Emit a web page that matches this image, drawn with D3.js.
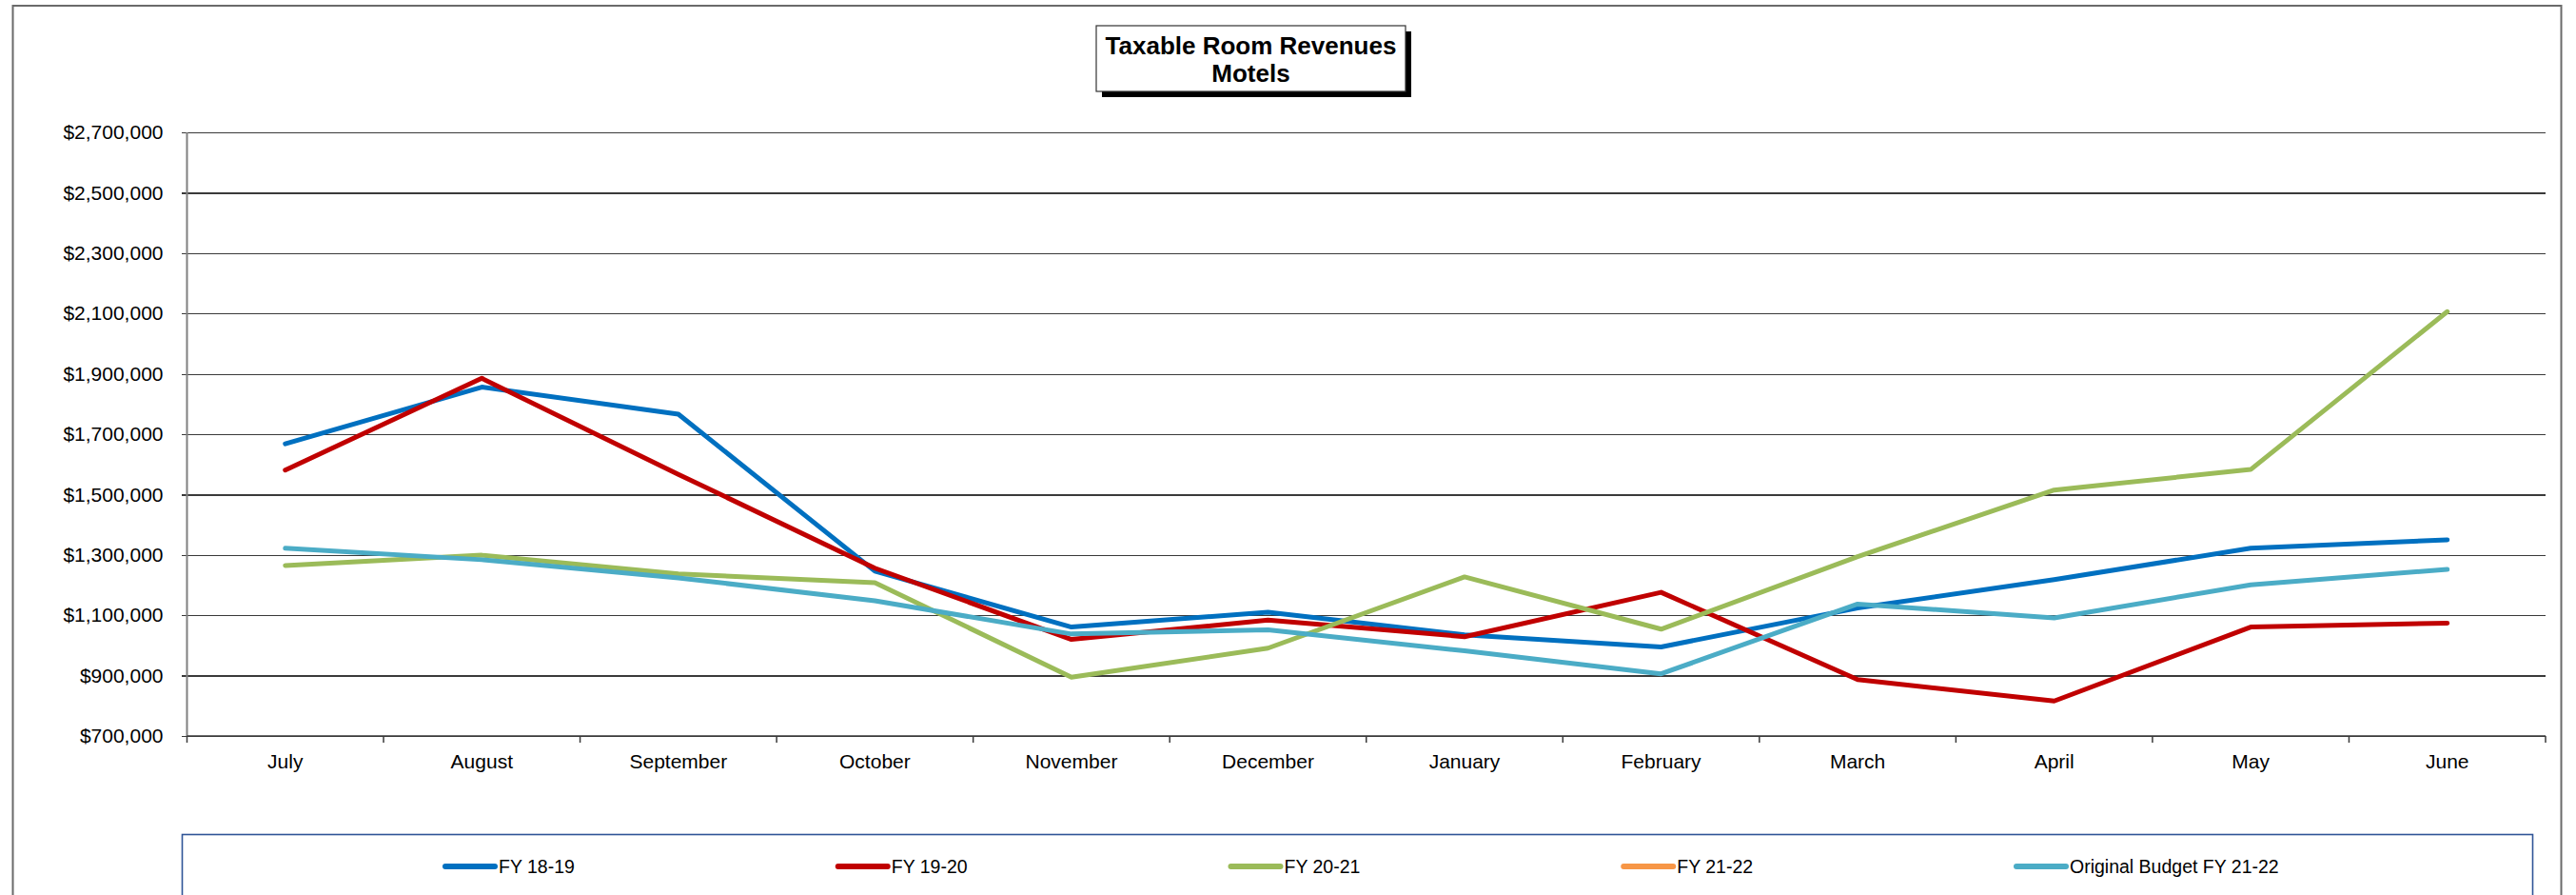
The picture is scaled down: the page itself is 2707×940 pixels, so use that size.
<!DOCTYPE html>
<html>
<head>
<meta charset="utf-8">
<script src="https://cdnjs.cloudflare.com/ajax/libs/d3/7.8.5/d3.min.js"></script>
<style>
  html, body { margin: 0; padding: 0; background: #fff; }
  svg { display: block; font-family: "Liberation Sans", Arial, sans-serif; }
</style>
</head>
<body>
<div id="chart"></div>
<script>
// ---- data ----
var months = ["July", "August", "September", "October", "November", "December",
              "January", "February", "March", "April", "May", "June"];
var fy1819 = [1668000, 1856000, 1766000, 1246000, 1061000, 1110000, 1035000, 995000, 1124000, 1218000, 1322000, 1350000];
var fy1920 = [1581000, 1885000, 1567000, 1256000, 1020000, 1084000, 1029000, 1176000, 887000, 816000, 1061000, 1074000];
var fy2021 = [1265000, 1299000, 1237000, 1208000, 895000, 991000, 1227000, 1054000, 1294000, 1515000, 1583000, 2106000];
var fy2122 = [];
var budget2122 = [1322000, 1284000, 1224000, 1148000, 1038000, 1052000, 982000, 906000, 1137000, 1091000, 1201000, 1252000];
var seriesNames = ["FY 18-19", "FY 19-20", "FY 20-21", "FY 21-22", "Original Budget FY 21-22"];
var seriesValues = [fy1819, fy1920, fy2021, fy2122, budget2122];
var seriesColors = ["#0070C0", "#C00000", "#9BBB59", "#F79646", "#4BACC6"];
var yTicks = [700000, 900000, 1100000, 1300000, 1500000, 1700000, 1900000, 2100000, 2300000, 2500000, 2700000];
var titleLines = ["Taxable Room Revenues", "Motels"];

// ---- layout ----
var W = 2707, H = 940;
var plot = { left: 196.5, right: 2675, top: 139, bottom: 773 };

var svg = d3.select("#chart").append("svg")
  .attr("width", W)
  .attr("height", H);

// outer chart border
svg.append("rect")
  .attr("x", 13.5).attr("y", 6)
  .attr("width", 2691.5 - 13.5).attr("height", 960)
  .attr("fill", "#fff")
  .attr("stroke", "#6a6a6a")
  .attr("stroke-width", 2);

var x = d3.scaleBand().domain(months).range([plot.left, plot.right]).padding(0);
var y = d3.scaleLinear().domain([700000, 2700000]).range([plot.bottom, plot.top]);
var fmt = d3.format("$,");

// gridlines + y axis
var yAxis = d3.axisLeft(y)
  .tickValues(yTicks)
  .tickSize(-(plot.right - plot.left))
  .tickPadding(25)
  .tickFormat(fmt);
var gy = svg.append("g")
  .attr("transform", "translate(" + plot.left + ",0)")
  .call(yAxis);
gy.select(".domain").remove();
gy.selectAll(".tick line")
  .attr("x1", -6)
  .attr("stroke", "#3a3a3a")
  .attr("stroke-width", 1.2)
  .attr("shape-rendering", "crispEdges");
gy.selectAll(".tick text")
  .attr("font-size", 21)
  .attr("fill", "#000")
  .attr("font-family", "Liberation Sans, Arial, sans-serif");

// vertical axis line
svg.append("line")
  .attr("x1", plot.left).attr("x2", plot.left)
  .attr("y1", plot.top).attr("y2", plot.bottom)
  .attr("stroke", "#808080").attr("stroke-width", 2);

// x axis
var boundaries = months.map(function(m) { return x(m); }).concat([plot.right]);
svg.append("line")
  .attr("x1", plot.left).attr("x2", plot.right)
  .attr("y1", plot.bottom).attr("y2", plot.bottom)
  .attr("stroke", "#3a3a3a").attr("stroke-width", 1.5);
svg.selectAll(".xtick")
  .data(boundaries)
  .enter().append("line")
  .attr("class", "xtick")
  .attr("x1", function(d) { return d; }).attr("x2", function(d) { return d; })
  .attr("y1", plot.bottom).attr("y2", plot.bottom + 7)
  .attr("stroke", "#3a3a3a").attr("stroke-width", 1.5);
svg.selectAll(".xlabel")
  .data(months)
  .enter().append("text")
  .attr("class", "xlabel")
  .attr("x", function(d) { return x(d) + x.bandwidth() / 2; })
  .attr("y", 807)
  .attr("text-anchor", "middle")
  .attr("font-size", 21)
  .text(function(d) { return d; });

// series lines
var line = d3.line()
  .x(function(d, i) { return x(months[i]) + x.bandwidth() / 2; })
  .y(function(d) { return y(d); });

seriesValues.forEach(function(vals, k) {
  if (!vals.length) return;
  svg.append("path")
    .datum(vals)
    .attr("d", line)
    .attr("fill", "none")
    .attr("stroke", seriesColors[k])
    .attr("stroke-width", 5)
    .attr("stroke-linejoin", "round")
    .attr("stroke-linecap", "round");
});

// title box with shadow
var tb = { x: 1152, y: 27, w: 325, h: 69 };
svg.append("rect")
  .attr("x", tb.x + 6).attr("y", tb.y + 6)
  .attr("width", tb.w).attr("height", tb.h)
  .attr("fill", "#000");
svg.append("rect")
  .attr("x", tb.x).attr("y", tb.y)
  .attr("width", tb.w).attr("height", tb.h)
  .attr("fill", "#fff")
  .attr("stroke", "#333").attr("stroke-width", 1.2);
svg.selectAll(".title")
  .data(titleLines)
  .enter().append("text")
  .attr("class", "title")
  .attr("x", tb.x + tb.w / 2)
  .attr("y", function(d, i) { return 57 + i * 29; })
  .attr("text-anchor", "middle")
  .attr("font-size", 26)
  .attr("font-weight", "bold")
  .text(function(d) { return d; });

// legend
svg.append("rect")
  .attr("x", 191.5).attr("y", 876.5)
  .attr("width", 2661.5 - 191.5).attr("height", 100)
  .attr("fill", "#fff")
  .attr("stroke", "#2F5597").attr("stroke-width", 1.6);

var legendX = d3.scalePoint().domain(seriesNames).range([466, 2117]);
var lg = svg.selectAll(".legend")
  .data(seriesNames)
  .enter().append("g")
  .attr("class", "legend")
  .attr("transform", function(d) { return "translate(" + legendX(d) + ",910)"; });
lg.append("line")
  .attr("x1", 2).attr("x2", 54)
  .attr("y1", 0).attr("y2", 0)
  .attr("stroke", function(d, i) { return seriesColors[i]; })
  .attr("stroke-width", 6)
  .attr("stroke-linecap", "round");
lg.append("text")
  .attr("x", 58)
  .attr("y", 7)
  .attr("font-size", 19.5)
  .text(function(d) { return d; });
</script>
</body>
</html>
